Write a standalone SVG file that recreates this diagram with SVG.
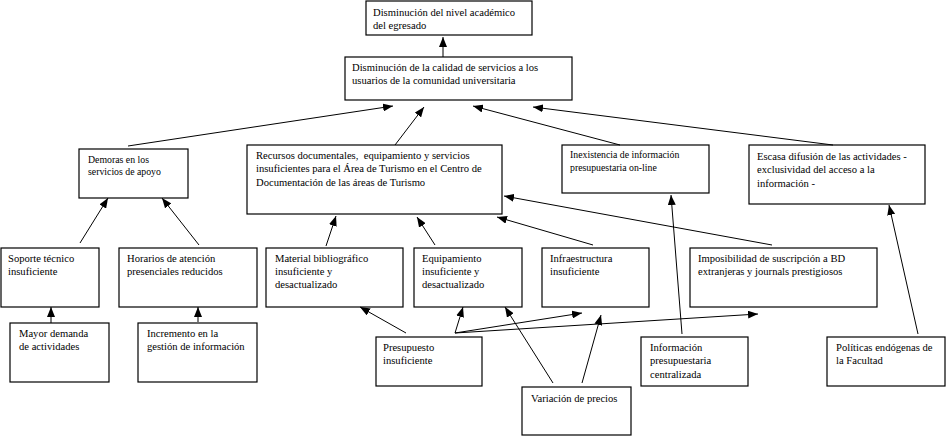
<svg xmlns="http://www.w3.org/2000/svg" width="946" height="436" viewBox="0 0 946 436">
<defs>
<marker id="ah" markerUnits="userSpaceOnUse" markerWidth="10" markerHeight="8" refX="10" refY="4" orient="auto">
<path d="M0,0 L10,4 L0,8 z" fill="#000"/>
</marker>
<style>
.b{fill:#fff;stroke:#000;stroke-width:1.2}
text{font-family:'Liberation Serif','DejaVu Serif',serif;fill:#000}
.t{font-size:10.6px}
.s{font-size:9.8px}
.c line{stroke:#000;stroke-width:1;marker-end:url(#ah)}
</style>
</defs>
<rect width="946" height="436" fill="#fff"/>
<g id="n1"><rect class="b" x="366" y="1" width="166" height="34"/><text class="t" x="373" y="16">Disminución del nivel académico</text><text class="t" x="373" y="29">del egresado</text></g>
<g id="n2"><rect class="b" x="345" y="57" width="227" height="43"/><text class="t" x="352" y="71">Disminución de la calidad de servicios a los</text><text class="t" x="352" y="84">usuarios de la comunidad universitaria</text></g>
<g id="n3"><rect class="b" x="79" y="149" width="109" height="49"/><text class="s" x="88" y="163">Demoras en los</text><text class="s" x="88" y="175">servicios de apoyo</text></g>
<g id="n4"><rect class="b" x="247" y="145" width="255" height="69"/><text class="t" x="256" y="159" xml:space="preserve">Recursos documentales,  equipamiento y servicios</text><text class="t" x="256" y="172">insuficientes para el Área de Turismo en el Centro de</text><text class="t" x="256" y="186">Documentación de las áreas de Turismo</text></g>
<g id="n5"><rect class="b" x="562" y="145" width="147" height="48"/><text class="s" x="570" y="158">Inexistencia de información</text><text class="s" x="570" y="171">presupuestaria on-line</text></g>
<g id="n6"><rect class="b" x="749" y="145" width="176" height="59"/><text class="t" x="757" y="160">Escasa difusión de las actividades -</text><text class="t" x="757" y="173">exclusividad del acceso a la</text><text class="t" x="757" y="187">información -</text></g>
<g id="n7"><rect class="b" x="1" y="248" width="98" height="59"/><text class="t" x="8" y="262">Soporte técnico</text><text class="t" x="8" y="275">insuficiente</text></g>
<g id="n8"><rect class="b" x="119" y="248" width="138" height="59"/><text class="t" x="127" y="262">Horarios de atención</text><text class="t" x="127" y="275">presenciales reducidos</text></g>
<g id="n9"><rect class="b" x="266" y="248" width="137" height="59"/><text class="t" x="275" y="262">Material bibliográfico</text><text class="t" x="275" y="275">insuficiente y</text><text class="t" x="275" y="288">desactualizado</text></g>
<g id="n10"><rect class="b" x="414" y="248" width="108" height="59"/><text class="t" x="422" y="262">Equipamiento</text><text class="t" x="422" y="275">insuficiente y</text><text class="t" x="422" y="288">desactualizado</text></g>
<g id="n11"><rect class="b" x="542" y="248" width="107" height="59"/><text class="t" x="550" y="262">Infraestructura</text><text class="t" x="550" y="275">insuficiente</text></g>
<g id="n12"><rect class="b" x="690" y="248" width="187" height="59"/><text class="t" x="698" y="262">Imposibilidad de suscripción a BD</text><text class="t" x="698" y="275">extranjeras y journals prestigiosos</text></g>
<g id="n13"><rect class="b" x="10" y="323" width="99" height="59"/><text class="t" x="19" y="337">Mayor demanda</text><text class="t" x="19" y="350">de actividades</text></g>
<g id="n14"><rect class="b" x="138" y="323" width="119" height="59"/><text class="t" x="147" y="337">Incremento en la</text><text class="t" x="147" y="350">gestión de información</text></g>
<g id="n15"><rect class="b" x="376" y="337" width="106" height="49"/><text class="t" x="383" y="351">Presupuesto</text><text class="t" x="383" y="364">insuficiente</text></g>
<g id="n16"><rect class="b" x="522" y="387" width="109" height="48"/><text class="t" x="531" y="402">Variación de precios</text></g>
<g id="n17"><rect class="b" x="641" y="337" width="107" height="49"/><text class="t" x="650" y="351">Información</text><text class="t" x="650" y="364">presupuestaria</text><text class="t" x="650" y="378">centralizada</text></g>
<g id="n18"><rect class="b" x="827" y="337" width="118" height="49"/><text class="t" x="836" y="351">Políticas endógenas de</text><text class="t" x="836" y="364">la Facultad</text></g>
<g id="connectors" class="c">
<line x1="443" y1="57" x2="443" y2="37"/>
<line x1="128" y1="146" x2="393" y2="106"/>
<line x1="395" y1="145" x2="424" y2="107"/>
<line x1="620" y1="145" x2="473" y2="106"/>
<line x1="833" y1="145" x2="533" y2="107"/>
<line x1="80" y1="243" x2="108" y2="198"/>
<line x1="199" y1="245" x2="162" y2="198"/>
<line x1="51" y1="323" x2="51" y2="307"/>
<line x1="198" y1="322" x2="198" y2="307"/>
<line x1="326" y1="246" x2="336" y2="216"/>
<line x1="435" y1="245" x2="417" y2="217"/>
<line x1="593" y1="245" x2="497" y2="217"/>
<line x1="772" y1="245" x2="504" y2="196"/>
<line x1="682" y1="334" x2="671" y2="195"/>
<line x1="918" y1="334" x2="889" y2="205"/>
<line x1="406" y1="333" x2="360" y2="307"/>
<line x1="455" y1="333" x2="463" y2="307"/>
<line x1="455" y1="333" x2="582" y2="313"/>
<line x1="455" y1="333" x2="758" y2="314"/>
<line x1="553" y1="383" x2="505" y2="307"/>
<line x1="582" y1="383" x2="601" y2="315"/>
</g>
</svg>
